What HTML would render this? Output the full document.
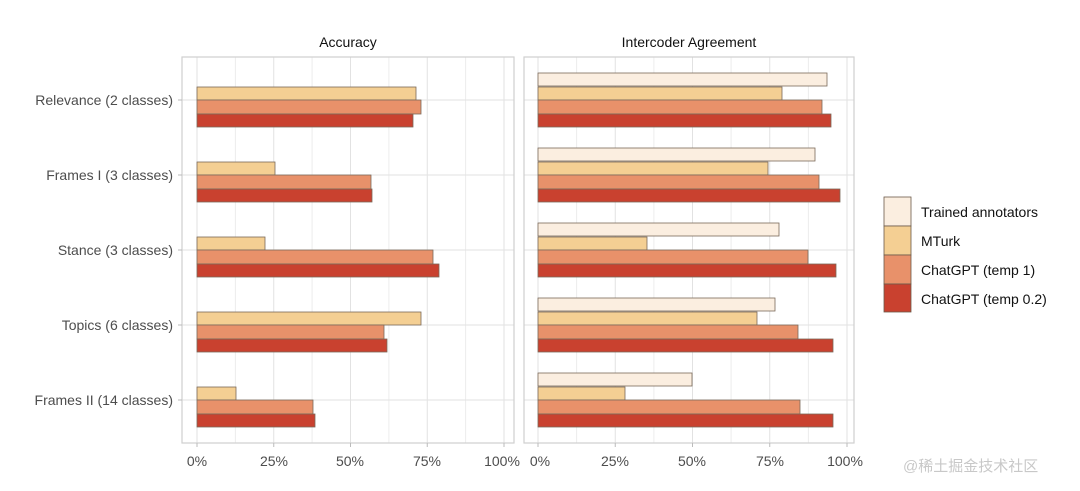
<!DOCTYPE html>
<html><head><meta charset="utf-8"><style>
body{margin:0;background:#fff;}
svg{display:block;font-family:"Liberation Sans",Arial,sans-serif;}
</style></head><body>
<svg width="1080" height="491" viewBox="0 0 1080 491">
<rect width="1080" height="491" fill="#fff"/>
<g stroke="#ececec" stroke-width="1">
<line x1="235.4" y1="57" x2="235.4" y2="443"/><line x1="312.1" y1="57" x2="312.1" y2="443"/><line x1="388.9" y1="57" x2="388.9" y2="443"/><line x1="465.6" y1="57" x2="465.6" y2="443"/>
<line x1="576.6" y1="57" x2="576.6" y2="443"/><line x1="653.9" y1="57" x2="653.9" y2="443"/><line x1="731.1" y1="57" x2="731.1" y2="443"/><line x1="808.4" y1="57" x2="808.4" y2="443"/>
</g>
<g stroke="#e2e2e2" stroke-width="1">
<line x1="197" y1="57" x2="197" y2="443"/><line x1="273.75" y1="57" x2="273.75" y2="443"/><line x1="350.5" y1="57" x2="350.5" y2="443"/><line x1="427.25" y1="57" x2="427.25" y2="443"/><line x1="504" y1="57" x2="504" y2="443"/>
<line x1="538" y1="57" x2="538" y2="443"/><line x1="615.25" y1="57" x2="615.25" y2="443"/><line x1="692.5" y1="57" x2="692.5" y2="443"/><line x1="769.75" y1="57" x2="769.75" y2="443"/><line x1="847" y1="57" x2="847" y2="443"/>
<line x1="182" y1="100" x2="514" y2="100"/><line x1="182" y1="175" x2="514" y2="175"/><line x1="182" y1="250" x2="514" y2="250"/><line x1="182" y1="325" x2="514" y2="325"/><line x1="182" y1="400" x2="514" y2="400"/>
<line x1="524" y1="100" x2="854" y2="100"/><line x1="524" y1="175" x2="854" y2="175"/><line x1="524" y1="250" x2="854" y2="250"/><line x1="524" y1="325" x2="854" y2="325"/><line x1="524" y1="400" x2="854" y2="400"/>
</g>
<g stroke="#7a6a5a" stroke-width="0.8">
<!-- Accuracy -->
<rect x="197" y="87" width="219" height="13" fill="#f4cf93"/>
<rect x="197" y="100" width="224" height="14" fill="#e8916a"/>
<rect x="197" y="114" width="216" height="13" fill="#c9412f"/>
<rect x="197" y="162" width="78" height="13" fill="#f4cf93"/>
<rect x="197" y="175" width="174" height="14" fill="#e8916a"/>
<rect x="197" y="189" width="175" height="13" fill="#c9412f"/>
<rect x="197" y="237" width="68" height="13" fill="#f4cf93"/>
<rect x="197" y="250" width="236" height="14" fill="#e8916a"/>
<rect x="197" y="264" width="242" height="13" fill="#c9412f"/>
<rect x="197" y="312" width="224" height="13" fill="#f4cf93"/>
<rect x="197" y="325" width="187" height="14" fill="#e8916a"/>
<rect x="197" y="339" width="190" height="13" fill="#c9412f"/>
<rect x="197" y="387" width="39" height="13" fill="#f4cf93"/>
<rect x="197" y="400" width="116" height="14" fill="#e8916a"/>
<rect x="197" y="414" width="118" height="13" fill="#c9412f"/>
<!-- Intercoder -->
<rect x="538" y="73" width="289" height="13" fill="#fbeee0"/>
<rect x="538" y="87" width="244" height="13" fill="#f4cf93"/>
<rect x="538" y="100" width="284" height="14" fill="#e8916a"/>
<rect x="538" y="114" width="293" height="13" fill="#c9412f"/>
<rect x="538" y="148" width="277" height="13" fill="#fbeee0"/>
<rect x="538" y="162" width="230" height="13" fill="#f4cf93"/>
<rect x="538" y="175" width="281" height="14" fill="#e8916a"/>
<rect x="538" y="189" width="302" height="13" fill="#c9412f"/>
<rect x="538" y="223" width="241" height="13" fill="#fbeee0"/>
<rect x="538" y="237" width="109" height="13" fill="#f4cf93"/>
<rect x="538" y="250" width="270" height="14" fill="#e8916a"/>
<rect x="538" y="264" width="298" height="13" fill="#c9412f"/>
<rect x="538" y="298" width="237" height="13" fill="#fbeee0"/>
<rect x="538" y="312" width="219" height="13" fill="#f4cf93"/>
<rect x="538" y="325" width="260" height="14" fill="#e8916a"/>
<rect x="538" y="339" width="295" height="13" fill="#c9412f"/>
<rect x="538" y="373" width="154" height="13" fill="#fbeee0"/>
<rect x="538" y="387" width="87" height="13" fill="#f4cf93"/>
<rect x="538" y="400" width="262" height="14" fill="#e8916a"/>
<rect x="538" y="414" width="295" height="13" fill="#c9412f"/>
</g>
<rect x="182" y="57" width="332" height="386" fill="none" stroke="#cfcfcf" stroke-width="1.2"/>
<rect x="524" y="57" width="330" height="386" fill="none" stroke="#cfcfcf" stroke-width="1.2"/>
<g stroke="#bbb" stroke-width="1">
<line x1="178" y1="100" x2="182" y2="100"/><line x1="178" y1="175" x2="182" y2="175"/><line x1="178" y1="250" x2="182" y2="250"/><line x1="178" y1="325" x2="182" y2="325"/><line x1="178" y1="400" x2="182" y2="400"/>
<line x1="197" y1="443" x2="197" y2="447"/><line x1="273.75" y1="443" x2="273.75" y2="447"/><line x1="350.5" y1="443" x2="350.5" y2="447"/><line x1="427.25" y1="443" x2="427.25" y2="447"/><line x1="504" y1="443" x2="504" y2="447"/>
<line x1="538" y1="443" x2="538" y2="447"/><line x1="615.25" y1="443" x2="615.25" y2="447"/><line x1="692.5" y1="443" x2="692.5" y2="447"/><line x1="769.75" y1="443" x2="769.75" y2="447"/><line x1="847" y1="443" x2="847" y2="447"/>
</g>
<g font-size="14" fill="#111" text-anchor="middle">
<text x="348" y="47">Accuracy</text>
<text x="689" y="47">Intercoder Agreement</text>
</g>
<g font-size="14" fill="#4d4d4d" text-anchor="end">
<text x="173" y="105">Relevance (2 classes)</text>
<text x="173" y="180">Frames I (3 classes)</text>
<text x="173" y="255">Stance (3 classes)</text>
<text x="173" y="330">Topics (6 classes)</text>
<text x="173" y="405">Frames II (14 classes)</text>
</g>
<g font-size="14" fill="#4d4d4d" text-anchor="middle">
<text x="197" y="466">0%</text><text x="274" y="466">25%</text><text x="350" y="466">50%</text><text x="427" y="466">75%</text><text x="502" y="466">100%</text>
<text x="540" y="466">0%</text><text x="615" y="466">25%</text><text x="692" y="466">50%</text><text x="770" y="466">75%</text><text x="845" y="466">100%</text>
</g>
<g stroke="#6b5a4a" stroke-width="0.8">
<rect x="884" y="197" width="27" height="29" fill="#fbeee0"/>
<rect x="884" y="226" width="27" height="29" fill="#f4cf93"/>
<rect x="884" y="255" width="27" height="29" fill="#e8916a"/>
<rect x="884" y="284" width="27" height="28" fill="#c9412f"/>
</g>
<g font-size="14" fill="#111">
<text x="921" y="217">Trained annotators</text>
<text x="921" y="246">MTurk</text>
<text x="921" y="275">ChatGPT (temp 1)</text>
<text x="921" y="304">ChatGPT (temp 0.2)</text>
</g>
<text x="903" y="471" font-size="15" fill="#c8c8c8" font-family="'Liberation Sans','Noto Sans CJK SC',sans-serif">@稀土掘金技术社区</text>
</svg>
</body></html>
